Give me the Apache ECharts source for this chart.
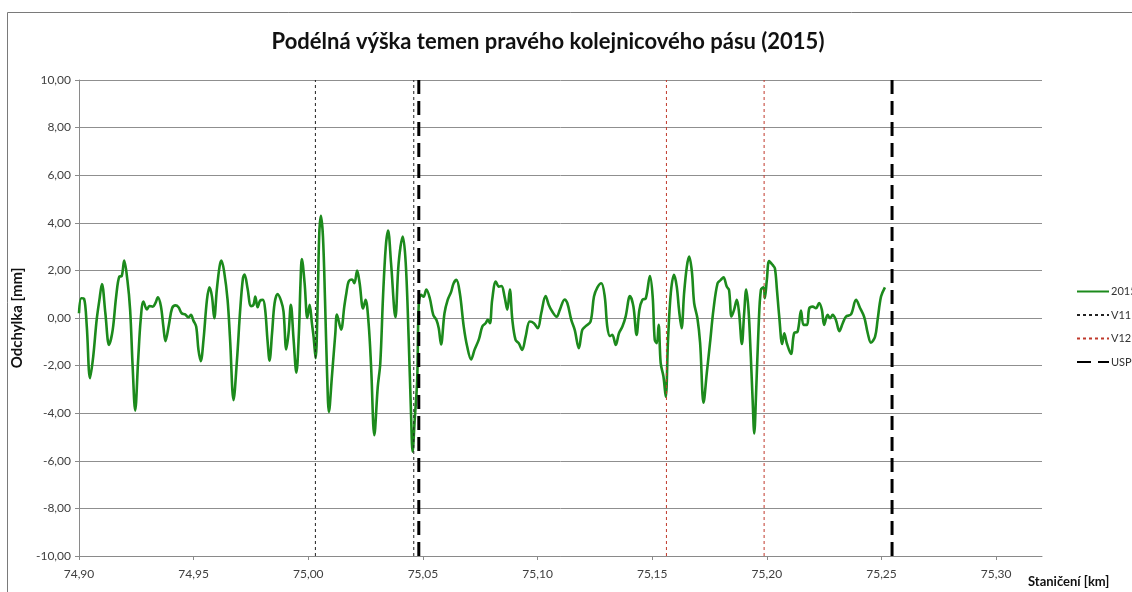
<!DOCTYPE html>
<html>
<head>
<meta charset="utf-8">
<title>Podélná výška</title>
<script src="https://cdn.jsdelivr.net/npm/echarts@6/dist/echarts.min.js"></script>
<style>
  html, body { margin: 0; padding: 0; background: #fff; }
  #chart { width: 1132px; height: 592px; }
</style>
</head>
<body>
<div id="chart"></div>
<script>
// staničení [km] a odchylka [mm]
var stationKm = [
  74.9000, 74.9010, 74.9022, 74.9034, 74.9048, 74.9062, 74.9077, 74.9089, 74.9100, 74.9115,
  74.9131, 74.9147, 74.9162, 74.9176, 74.9186, 74.9197, 74.9211, 74.9223, 74.9234, 74.9245,
  74.9258, 74.9269, 74.9281, 74.9296, 74.9307, 74.9322, 74.9333, 74.9344, 74.9357, 74.9368,
  74.9377, 74.9392, 74.9406, 74.9421, 74.9434, 74.9448, 74.9463, 74.9477, 74.9488, 74.9499,
  74.9511, 74.9521, 74.9531, 74.9543, 74.9558, 74.9569, 74.9580, 74.9590, 74.9601, 74.9613,
  74.9621, 74.9633, 74.9648, 74.9659, 74.9674, 74.9689, 74.9703, 74.9715, 74.9722, 74.9735,
  74.9750, 74.9761, 74.9769, 74.9779, 74.9790, 74.9802, 74.9812, 74.9822, 74.9831, 74.9842,
  74.9853, 74.9866, 74.9881, 74.9892, 74.9904, 74.9914, 74.9924, 74.9936, 74.9948, 74.9959,
  74.9966, 74.9972, 74.9984, 74.9996, 75.0006, 75.0016, 75.0023, 75.0032, 75.0041, 75.0048,
  75.0055, 75.0064, 75.0073, 75.0082, 75.0090, 75.0103, 75.0118, 75.0125, 75.0143, 75.0157,
  75.0166, 75.0176, 75.0191, 75.0201, 75.0213, 75.0224, 75.0239, 75.0250, 75.0263, 75.0274,
  75.0288, 75.0303, 75.0314, 75.0326, 75.0338, 75.0348, 75.0361, 75.0380, 75.0394, 75.0412,
  75.0425, 75.0438, 75.0448, 75.0455, 75.0464, 75.0475, 75.0482, 75.0492, 75.0503, 75.0515,
  75.0530, 75.0545, 75.0559, 75.0569, 75.0579, 75.0594, 75.0608, 75.0623, 75.0634, 75.0646,
  75.0661, 75.0678, 75.0693, 75.0710, 75.0725, 75.0744, 75.0759, 75.0773, 75.0783, 75.0792,
  75.0802, 75.0818, 75.0831, 75.0843, 75.0856, 75.0868, 75.0879, 75.0890, 75.0904, 75.0918,
  75.0933, 75.0948, 75.0966, 75.0984, 75.1001, 75.1016, 75.1035, 75.1049, 75.1064, 75.1083,
  75.1097, 75.1118, 75.1130, 75.1147, 75.1162, 75.1180, 75.1195, 75.1210, 75.1231, 75.1246,
  75.1261, 75.1278, 75.1293, 75.1304, 75.1316, 75.1326, 75.1341, 75.1355, 75.1370, 75.1384,
  75.1403, 75.1418, 75.1432, 75.1444, 75.1457, 75.1472, 75.1490, 75.1502, 75.1511, 75.1520,
  75.1528, 75.1537, 75.1549, 75.1559, 75.1569, 75.1581, 75.1595, 75.1607, 75.1617, 75.1628,
  75.1639, 75.1651, 75.1661, 75.1673, 75.1683, 75.1697, 75.1709, 75.1724, 75.1738, 75.1752,
  75.1767, 75.1785, 75.1799, 75.1811, 75.1825, 75.1835, 75.1846, 75.1857, 75.1869, 75.1879,
  75.1891, 75.1901, 75.1910, 75.1920, 75.1930, 75.1938, 75.1945, 75.1953, 75.1964, 75.1974,
  75.1986, 75.1991, 75.2000, 75.2010, 75.2025, 75.2035, 75.2044, 75.2054, 75.2067, 75.2076,
  75.2087, 75.2105, 75.2119, 75.2134, 75.2149, 75.2160, 75.2175, 75.2185, 75.2200, 75.2214,
  75.2228, 75.2240, 75.2250, 75.2265, 75.2276, 75.2287, 75.2301, 75.2316, 75.2331, 75.2345,
  75.2367, 75.2389, 75.2407, 75.2425, 75.2440, 75.2454, 75.2472, 75.2483, 75.2498, 75.2515
];
var deviation2015 = [
  0.20, 0.83, 0.81, -0.36, -2.53, -1.62, -0.08, 0.76, 1.43, 0.20,
  -1.13, -0.50, 0.90, 1.74, 1.76, 2.41, 1.60, 0.34, -2.05, -3.89,
  -1.76, -0.08, 0.69, 0.36, 0.50, 0.48, 0.62, 0.87, 0.50, -0.36,
  -0.97, -0.29, 0.41, 0.53, 0.45, 0.20, 0.15, 0.03, 0.13, -0.11,
  -0.36, -1.34, -1.81, -0.92, 0.76, 1.29, 0.90, -0.01, 1.18, 2.16,
  2.41, 1.95, 0.76, -0.92, -3.45, -1.76, 0.34, 1.67, 1.83, 1.25,
  0.50, 0.55, 0.90, 0.45, 0.73, 0.76, 0.34, -0.92, -1.79, -0.64,
  0.62, 1.01, 0.73, 0.27, -1.32, -0.64, 0.55, -0.92, -2.30, -0.64,
  1.46, 2.48, 1.46, 0.00, 0.55, -0.24, -0.78, -1.69, 0.76, 3.56,
  4.29, 3.42, 0.76, -2.32, -3.95, -2.46, -0.64, 0.14, -0.49, 0.48,
  1.04, 1.53, 1.62, 1.46, 1.99, 1.46, 0.40, 0.76, -0.22, -2.05,
  -4.92, -2.89, -1.90, 0.90, 3.00, 3.67, 2.30, 0.03, 2.30, 3.42,
  2.30, -0.92, -4.00, -5.62, -4.29, -2.60, 0.62, 0.97, 0.90, 1.20,
  0.83, 0.13, -0.08, -0.43, -1.11, 0.20, 0.76, 1.10, 1.46, 1.60,
  1.04, -0.36, -1.20, -1.74, -1.34, -0.90, -0.36, -0.22, -0.08, -0.22,
  0.76, 1.53, 1.32, 1.34, 0.90, 0.35, 1.20, -0.08, -0.92, -1.06,
  -1.34, -0.78, -0.15, -0.22, -0.43, 0.20, 0.92, 0.55, 0.27, 0.05,
  0.34, 0.78, 0.62, -0.08, -0.50, -1.27, -0.50, -0.34, -0.15, 0.90,
  1.29, 1.46, 0.90, -0.36, -0.76, -0.71, -1.13, -0.64, -0.36, 0.06,
  0.92, 0.48, -0.71, 0.34, 0.76, 0.83, 1.76, 0.90, -0.92, -1.06,
  -0.29, -1.90, -2.46, -3.31, -0.92, 1.04, 1.81, 1.32, 0.34, -0.43,
  1.04, 2.16, 2.58, 1.95, 0.62, 0.00, -1.06, -3.56, -2.32, -1.06,
  0.34, 1.46, 1.60, 1.71, 1.32, 1.18, 0.06, 0.34, 0.76, 0.20,
  -1.09, 0.20, 1.20, 0.34, -1.62, -3.45, -4.85, -3.17, -0.36, 1.18,
  1.29, 0.83, 1.60, 2.39, 2.23, 2.09, 1.18, 0.06, -1.09, -0.64,
  -1.06, -1.51, -0.64, -0.57, 0.31, -0.29, -0.29, 0.41, 0.48, 0.41,
  0.63, 0.34, -0.29, 0.13, -0.01, 0.13, -0.08, -0.55, -0.22, 0.06,
  0.15, 0.76, 0.41, 0.03, -0.64, -1.04, -0.78, -0.08, 0.90, 1.29
];
var v11Km = [75.0031, 75.0460];
var v12Km = [75.1562, 75.1988];
var uspKm = [75.0482, 75.2546];
var xTicks = [74.90, 74.95, 75.00, 75.05, 75.10, 75.15, 75.20, 75.25, 75.30];
var yTicks = [-10, -8, -6, -4, -2, 0, 2, 4, 6, 8, 10];

var font = 'Lato, "Open Sans", sans-serif';
var comma = function (v, d) { return Number(v).toFixed(d).replace('.', ','); };

var mainData = stationKm.map(function (k, i) { return [k, deviation2015[i]]; });

var series = [{
  name: '2015',
  type: 'line',
  data: mainData,
  smooth: 0.35,
  symbol: 'none',
  lineStyle: { color: '#1c8a1c', width: 2.6 },
  itemStyle: { color: '#1c8a1c' }
}];

function addMarkers(name, list, style) {
  list.forEach(function (k) {
    series.push({
      name: name,
      type: 'line',
      data: [[k, yTicks[0]], [k, yTicks[yTicks.length - 1]]],
      symbol: 'none',
      silent: true,
      lineStyle: style,
      itemStyle: { color: style.color }
    });
  });
}
addMarkers('V11', v11Km, { color: '#222', width: 1, type: [3, 3] });
addMarkers('V12', v12Km, { color: '#c0392b', width: 1, type: [3, 3] });
addMarkers('USP', uspKm, { color: '#000', width: 3, type: [14, 7] });

var chart = echarts.init(document.getElementById('chart'), null, { renderer: 'canvas' });
chart.setOption({
  animation: false,
  backgroundColor: '#fff',
  textStyle: { fontFamily: font },
  grid: { left: 79, right: 90, top: 80, bottom: 36, containLabel: false },
  legend: {
    orient: 'vertical',
    left: 1071,
    top: 281,
    itemWidth: 32,
    itemHeight: 12,
    itemGap: 12.5,
    itemStyle: { opacity: 0 },
    data: ['2015', 'V11', 'V12', 'USP'],
    textStyle: { fontSize: 11, color: '#333', fontFamily: font, padding: [0, 0, 0, -3] }
  },
  xAxis: {
    type: 'value',
    min: 74.90,
    max: 75.32,
    interval: 0.05,
    axisLine: { onZero: false, lineStyle: { color: '#8a8a8a', width: 1 } },
    axisTick: { show: true, length: 4, customValues: xTicks, lineStyle: { color: '#8a8a8a' } },
    axisLabel: {
      customValues: xTicks,
      margin: 12,
      fontSize: 12,
      color: '#404040',
      formatter: function (v) { return comma(v, 2); }
    },
    splitLine: { show: false }
  },
  yAxis: {
    type: 'value',
    min: -10,
    max: 10,
    interval: 2,
    name: 'Odchylka [mm]',
    nameLocation: 'middle',
    nameGap: 51,
    nameTextStyle: { fontSize: 15, fontWeight: 'bold', color: '#111', fontFamily: font },
    axisLine: { show: true, onZero: false, lineStyle: { color: '#8a8a8a', width: 1 } },
    axisTick: { show: true, length: 4, lineStyle: { color: '#8a8a8a' } },
    axisLabel: {
      margin: 8,
      fontSize: 12,
      color: '#404040',
      formatter: function (v) { return comma(v, 2); }
    },
    splitLine: { show: true, lineStyle: { color: '#8f8f8f', width: 1 } }
  },
  graphic: [
    {
      type: 'rect',
      silent: true,
      shape: { x: 7.5, y: 12.5, width: 1300, height: 700 },
      style: { fill: 'none', stroke: '#7a7a7a', lineWidth: 1 }
    },
    {
      type: 'text',
      x: 548,
      y: 42,
      style: {
        text: 'Podélná výška temen pravého kolejnicového pásu (2015)',
        font: 'bold 22px ' + font,
        fill: '#111',
        align: 'center',
        verticalAlign: 'middle'
      }
    },
    {
      type: 'text',
      x: 1028,
      y: 582,
      style: {
        text: 'Staničení [km]',
        font: 'bold 13px ' + font,
        fill: '#111',
        align: 'left',
        verticalAlign: 'middle'
      }
    }
  ],
  series: series
});
</script>
</body>
</html>
